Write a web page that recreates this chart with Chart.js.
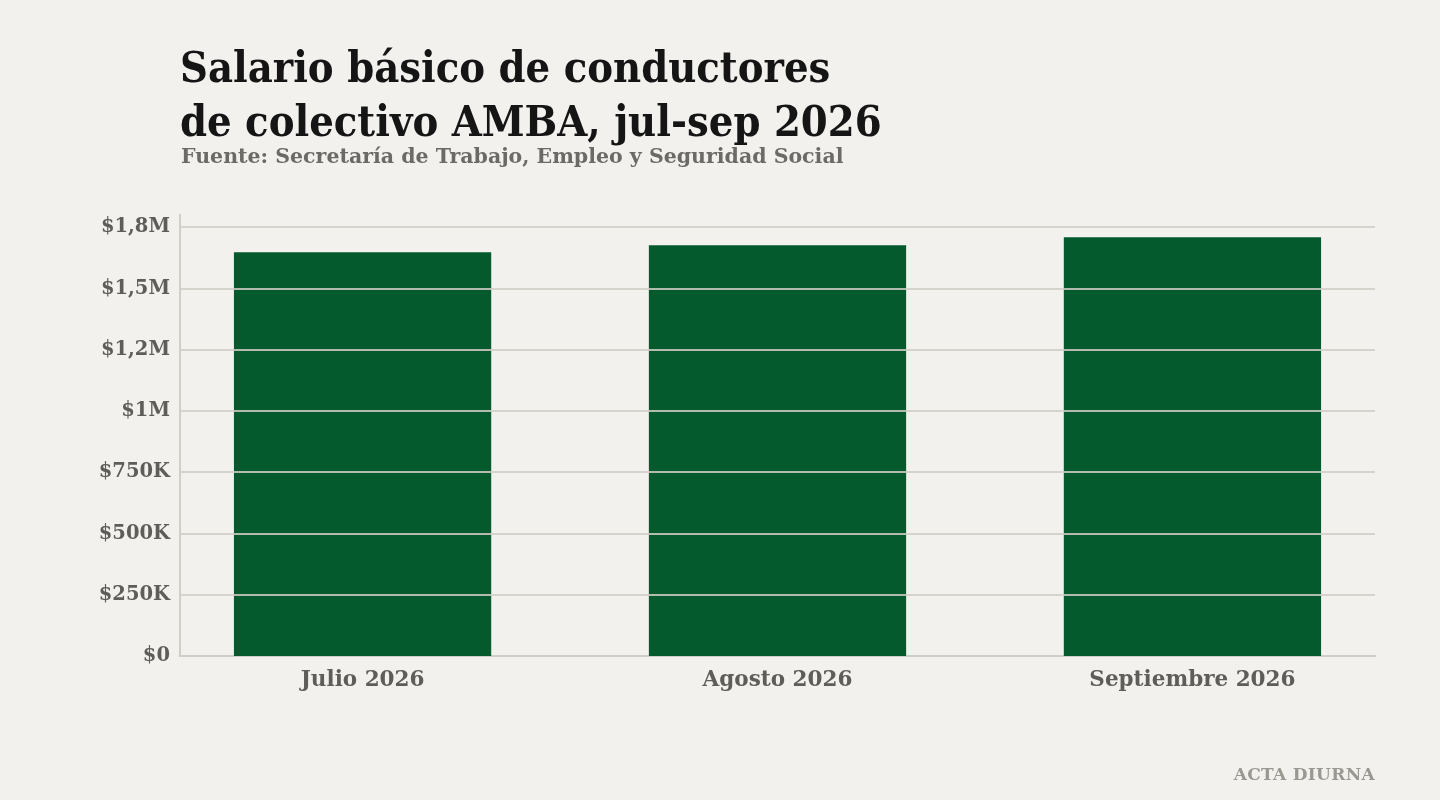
<!DOCTYPE html>
<html lang="es">
<head>
<meta charset="utf-8">
<script src="https://cdn.jsdelivr.net/npm/chart.js@4/dist/chart.umd.min.js"></script>
<style>
  html, body { margin: 0; padding: 0; background: #f2f1ee; }
  body { width: 1440px; height: 800px; position: relative; overflow: hidden;
         font-family: "DejaVu Serif", serif; }
  #title { position: absolute; left: 180px; top: 40px; margin: 0;
           font-family: "DejaVu Serif Condensed", "DejaVu Serif", serif;
           font-size: 43px; line-height: 54px; font-weight: bold; color: #151515; }
  #source { position: absolute; left: 181px; top: 144px; margin: 0;
            font-size: 20.5px; font-weight: bold; color: #6b6a67; }
  #credit { position: absolute; right: 65px; top: 764px;
            font-size: 17px; font-weight: bold; color: #9b9892; letter-spacing: 0.3px; }
  #wrap { position: absolute; left: 0; top: 0; width: 1440px; height: 800px; }
</style>
</head>
<body>
<div id="wrap"><canvas id="barChart"></canvas></div>
<h1 id="title">Salario básico de conductores<br>de colectivo AMBA, jul-sep 2026</h1>
<p id="source">Fuente: Secretaría de Trabajo, Empleo y Seguridad Social</p>
<div id="credit">ACTA DIURNA</div>

<script>
// datos
const months = ["Julio 2026", "Agosto 2026", "Septiembre 2026"];
const salary = [1648000, 1677000, 1709000];
const yTickValues = [0, 250000, 500000, 750000, 1000000, 1250000, 1500000, 1750000];
const yTickLabels = ["$0", "$250K", "$500K", "$750K", "$1M", "$1,2M", "$1,5M", "$1,8M"];

const FONT = "'DejaVu Serif', serif";
const c = {
  bar: "#045a2d",
  grid: "rgba(208, 206, 198, 0.85)",
  axis: "#d0cec7",
  text: "#5e5d5a",
};

// gridlines go on top of the bars, like the original
const gridOnTop = {
  id: "gridOnTop",
  afterDatasetsDraw(chart) {
    const { ctx, chartArea, scales } = chart;
    const y = scales.y;
    ctx.save();
    ctx.strokeStyle = c.grid;
    ctx.lineWidth = 2;
    y.ticks.forEach((t) => {
      if (t.value === 0) return;
      const py = Math.round(y.getPixelForValue(t.value));
      ctx.beginPath();
      ctx.moveTo(chartArea.left, py);
      ctx.lineTo(chartArea.right, py);
      ctx.stroke();
    });
    ctx.restore();
  },
};

new Chart(document.getElementById("barChart"), {
  type: "bar",
  data: {
    datasets: [
      {
        data: salary.map((v, i) => ({ x: i, y: v })),
        backgroundColor: c.bar,
        borderWidth: 0,
        barPercentage: 0.62,
        categoryPercentage: 1,
      },
    ],
  },
  options: {
    responsive: true,
    maintainAspectRatio: false,
    animation: false,
    layout: { padding: { left: 0, right: 65, top: 215, bottom: 0 } },
    plugins: { legend: { display: false }, tooltip: { enabled: false } },
    scales: {
      x: {
        type: "linear",
        min: -0.44,
        max: months.length - 1 + 0.44,
        offset: false,
        grid: { display: false, drawTicks: false },
        border: { display: true, color: c.axis, width: 2 },
        afterBuildTicks(scale) { scale.ticks = months.map((m, i) => ({ value: i })); },
        afterFit(scale) { scale.height = 144; },
        ticks: {
          color: c.text,
          padding: 12,
          maxRotation: 0,
          font: { family: FONT, size: 21.5, weight: "bold" },
          callback: (v) => months[v],
        },
      },
      y: {
        min: 0,
        max: 1800000,
        grid: { display: false, drawTicks: false },
        border: { display: true, color: c.axis, width: 2 },
        afterBuildTicks(scale) { scale.ticks = yTickValues.map((v) => ({ value: v })); },
        afterFit(scale) { scale.width = 180; },
        ticks: {
          color: c.text,
          padding: 10,
          font: { family: FONT, size: 19.5, weight: "bold" },
          callback: (v) => yTickLabels[yTickValues.indexOf(v)],
        },
      },
    },
  },
  plugins: [gridOnTop],
});
</script>
</body>
</html>
